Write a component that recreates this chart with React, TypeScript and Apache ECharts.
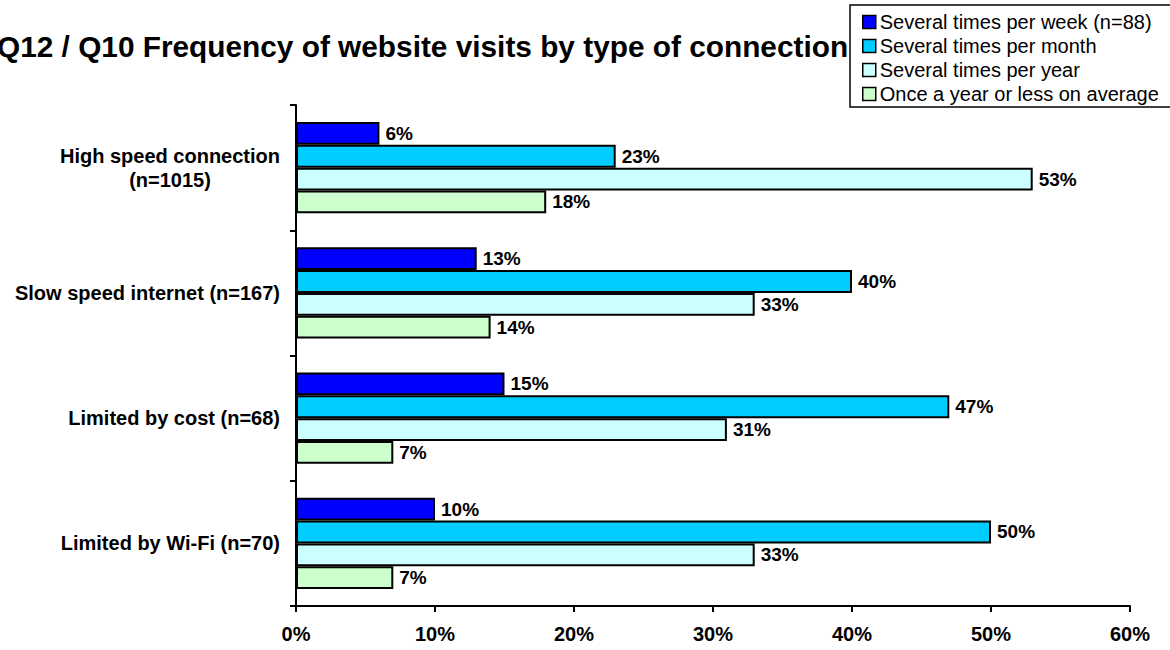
import React, { useEffect, useRef } from "react";
import * as echarts from "echarts";

const categories = [
  "High speed connection\n(n=1015)",
  "Slow speed internet (n=167)",
  "Limited by cost (n=68)",
  "Limited by Wi-Fi (n=70)",
];
const seriesNames = [
  "Several times per week (n=88)",
  "Several times per month",
  "Several times per year",
  "Once a year or less on average",
];
const weekly = [6, 13, 15, 10];
const monthly = [23, 40, 47, 50];
const yearly = [53, 33, 31, 33];
const onceYear = [18, 14, 7, 7];
const colors = ["#0000FF", "#00CCFF", "#CCFFFF", "#CCFFCC"];
const xTicks = [0, 10, 20, 30, 40, 50, 60];

const FONT = 'Arial, "Liberation Sans", sans-serif';

export default function App() {
  const ref = useRef<HTMLDivElement>(null);
  useEffect(() => {
    document.body.style.margin = "0";
    const chart = echarts.init(ref.current!, null, { renderer: "svg" });
    const values = [weekly, monthly, yearly, onceYear];
    chart.setOption({
      animation: false,
      backgroundColor: "#ffffff",
      title: {
        text: "Q12 / Q10 Frequency of website visits by type of connection",
        left: -3,
        top: 31,
        padding: 0,
        z: 1,
        textStyle: {
          fontFamily: FONT,
          fontSize: 29.8,
          fontWeight: "bold",
          color: "#000",
        },
      },
      legend: {
        orient: "vertical",
        left: 850,
        top: 5,
        z: 10,
        padding: [7, 12, 3, 12],
        itemGap: 4,
        itemWidth: 13,
        itemHeight: 13,
        backgroundColor: "#ffffff",
        borderColor: "#000",
        borderWidth: 1.5,
        borderRadius: 0,
        icon: "rect",
        itemStyle: { borderColor: "#000", borderWidth: 1.5 },
        textStyle: { fontFamily: FONT, fontSize: 20, color: "#000", padding: [0, 0, 0, -1] },
        data: seriesNames,
      },
      grid: { left: 296, right: 40, top: 105, bottom: 44 },
      xAxis: {
        type: "value",
        min: xTicks[0],
        max: xTicks[xTicks.length - 1],
        interval: 10,
        splitLine: { show: false },
        axisLine: { show: true, lineStyle: { color: "#000", width: 2 } },
        axisTick: { show: true, length: 6, lineStyle: { color: "#000", width: 2 } },
        axisLabel: {
          formatter: "{value}%",
          fontFamily: FONT,
          fontSize: 20,
          fontWeight: "bold",
          color: "#000",
          margin: 18,
        },
      },
      yAxis: {
        type: "category",
        inverse: true,
        data: categories,
        axisLine: { show: true, lineStyle: { color: "#000", width: 2 } },
        axisTick: { show: true, length: 6, lineStyle: { color: "#000", width: 2 } },
        axisLabel: {
          margin: 16,
          color: "#000",
          fontFamily: FONT,
          fontSize: 20,
          fontWeight: "bold",
          formatter: (v: string) =>
            v
              .split("\n")
              .map((s) => `{c|${s}}`)
              .join("\n"),
          rich: {
            c: {
              align: "center",
              fontFamily: FONT,
              fontSize: 20,
              fontWeight: "bold",
              color: "#000",
              lineHeight: 24,
            },
          },
        },
      },
      series: seriesNames.map((name, i) => ({
        name,
        type: "bar",
        data: values[i],
        barGap: "0%",
        barCategoryGap: "27%",
        itemStyle: { color: colors[i], borderColor: "#000", borderWidth: 2 },
        label: {
          show: true,
          position: "right",
          distance: 6,
          formatter: "{c}%",
          fontFamily: FONT,
          fontSize: 19,
          fontWeight: "bold",
          color: "#000",
        },
      })),
    });
    return () => chart.dispose();
  }, []);
  return <div ref={ref} style={{ width: 1170, height: 650 }} />;
}
